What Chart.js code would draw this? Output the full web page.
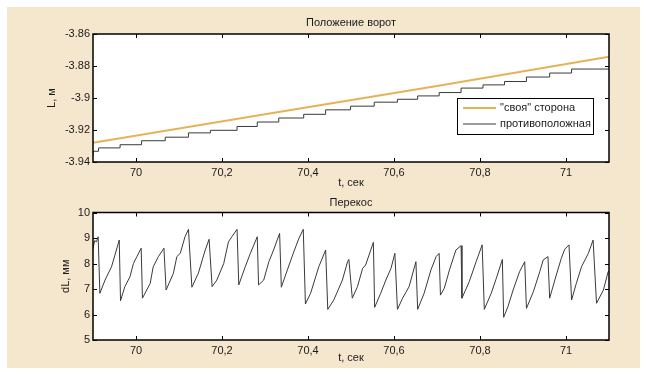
<!DOCTYPE html>
<html>
<head>
<meta charset="utf-8">
<script src="https://cdn.jsdelivr.net/npm/chart.js@4/dist/chart.umd.min.js"></script>
<style>
body{margin:0;background:#fff;width:648px;height:375px;overflow:hidden;position:relative;}
#panel{position:absolute;left:7px;top:7px;width:633px;height:361px;background:#F5E6CE;}
canvas{position:absolute;left:0;}
#c1{top:0;}
#c2{top:190px;}
</style>
</head>
<body>
<div id="panel"></div>
<canvas id="c1" width="648" height="190"></canvas>
<canvas id="c2" width="648" height="185"></canvas>
<script>
// tick labels
const xTicks=[70,70.2,70.4,70.6,70.8,71];
const xTickLabels=["70","70,2","70,4","70,6","70,8","71"];
const yTicksTop=[-3.94,-3.92,-3.9,-3.88,-3.86];
const yTickLabelsTop=["-3.94","-3.92","-3.9","-3.88","-3.86"];
const yTicksBottom=[5,6,7,8,9,10];

// "своя" сторона
const ownTime=[69.9,70.3,70.7,71.1];
const ownL=[-3.928,-3.9102,-3.8925,-3.8742];

// противоположная (ступеньки)
const oppTime=[69.9,69.913,69.963,70.013,70.068,70.122,70.173,70.235,70.282,70.332,70.39,70.441,70.499,70.554,70.608,70.655,70.705,70.756,70.807,70.857,70.908,70.962,71.013,71.067,71.1];
const oppL=[-3.9361,-3.9333,-3.9312,-3.9292,-3.9267,-3.9245,-3.9218,-3.9202,-3.9178,-3.915,-3.9125,-3.9102,-3.9074,-3.9051,-3.9026,-3.9008,-3.8987,-3.8966,-3.8938,-3.8918,-3.8897,-3.8869,-3.8844,-3.8819,-3.8819];

// перекос
const skewTime=[69.899,69.904,69.908,69.912,69.916,69.928,69.943,69.951,69.961,69.964,69.974,69.986,69.994,70.002,70.012,70.015,70.033,70.04,70.052,70.065,70.07,70.087,70.095,70.103,70.114,70.122,70.13,70.145,70.161,70.17,70.177,70.188,70.204,70.215,70.223,70.235,70.239,70.254,70.266,70.282,70.285,70.297,70.309,70.32,70.334,70.338,70.352,70.367,70.379,70.389,70.394,70.406,70.425,70.441,70.446,70.46,70.48,70.492,70.495,70.503,70.515,70.527,70.534,70.546,70.552,70.555,70.569,70.581,70.593,70.602,70.608,70.62,70.635,70.651,70.655,70.67,70.686,70.698,70.705,70.708,70.717,70.729,70.744,70.756,70.758,70.775,70.791,70.805,70.81,70.826,70.838,70.852,70.855,70.865,70.877,70.892,70.904,70.908,70.924,70.939,70.947,70.958,70.962,70.974,70.989,70.997,71.007,71.013,71.024,71.036,71.052,71.063,71.071,71.087,71.098,71.103];
const skewVal=[8.53,8.9,8.85,9.05,6.83,7.35,7.87,8.33,8.92,6.54,7.09,7.48,8.0,8.27,8.6,6.64,7.22,7.87,8.27,8.6,6.96,7.62,8.27,8.4,9.05,9.34,7.07,7.62,8.53,8.95,7.09,7.35,8.0,8.85,9.05,9.34,7.16,7.87,8.4,9.05,7.16,7.35,8.07,8.53,9.18,7.07,7.75,8.46,8.99,9.34,6.41,6.83,7.87,8.53,6.2,6.57,7.35,8.07,8.16,6.64,7.09,7.81,7.94,8.53,8.83,6.28,6.83,7.35,7.81,8.4,6.2,6.64,7.09,8.07,6.2,6.83,7.75,8.27,8.4,6.76,7.03,7.75,8.53,8.7,6.64,7.29,8.07,8.73,6.2,6.83,7.42,8.16,5.89,6.31,6.96,7.68,8.07,6.24,6.89,7.68,8.14,8.27,6.64,7.35,8.2,8.56,8.73,6.57,7.22,7.87,8.4,8.92,6.44,6.96,7.68,7.68];

const FONT="'Liberation Sans', Arial, sans-serif";
Chart.defaults.font.family=FONT;
Chart.defaults.font.size=11;
Chart.defaults.color="#1a1a1a";

const pts=(xs,ys)=>xs.map((x,i)=>({x:x,y:ys[i]}));

const framePlugin={
id:"frame",
beforeDraw(c){
let a=c.chartArea,ctx=c.ctx;
ctx.save();
ctx.fillStyle="#fff";
ctx.fillRect(a.left,a.top,a.width,a.height);
ctx.restore();
},
afterDraw(c){
let a=c.chartArea,ctx=c.ctx,xs=c.scales.x,ys=c.scales.y;
ctx.save();
ctx.strokeStyle="#000";
ctx.lineWidth=1.5;
ctx.strokeRect(a.left,a.top,a.width,a.height);
ctx.lineWidth=1;
ctx.beginPath();
xs.ticks.forEach(t=>{
let p=Math.round(xs.getPixelForValue(t.value))+0.5;
ctx.moveTo(p,a.bottom);ctx.lineTo(p,a.bottom-4);
ctx.moveTo(p,a.top);ctx.lineTo(p,a.top+4);
});
ys.ticks.forEach(t=>{
let p=Math.round(ys.getPixelForValue(t.value))+0.5;
ctx.moveTo(a.left,p);ctx.lineTo(a.left+4,p);
ctx.moveTo(a.right,p);ctx.lineTo(a.right-4,p);
});
ctx.stroke();
ctx.restore();
}
};

const legendPlugin={
id:"insideLegend",
afterDraw(c){
if(!c.options.plugins.insideLegend) return;
let a=c.chartArea,ctx=c.ctx;
let w=136,h=36,x0=a.right-16-w,y0=a.top+64;
ctx.save();
ctx.fillStyle="#fff";
ctx.fillRect(x0,y0,w,h);
ctx.strokeStyle="#000";
ctx.lineWidth=1;
ctx.strokeRect(x0+0.5,y0+0.5,w,h);
ctx.font="11px "+FONT;
ctx.textBaseline="middle";
c.data.datasets.forEach((d,i)=>{
let y=y0+10+i*16;
ctx.strokeStyle=d.borderColor;
ctx.lineWidth=d.borderWidth;
ctx.beginPath();ctx.moveTo(x0+6,y);ctx.lineTo(x0+39,y);ctx.stroke();
ctx.fillStyle="#1a1a1a";
ctx.fillText(d.label,x0+43,y);
});
ctx.restore();
}
};

function xScale(h,title){
return {
type:"linear",min:69.9,max:71.1,
grid:{display:false,drawTicks:false},border:{display:false},
afterBuildTicks:s=>{s.ticks=xTicks.map(v=>({value:v}));},
afterFit:s=>{s.height=h;},
ticks:{padding:4,maxRotation:0,autoSkip:false,
callback:(v)=>{let i=xTicks.findIndex(t=>Math.abs(t-v)<1e-6);return i<0?"":xTickLabels[i];}},
title:{display:true,text:title,padding:{top:0,bottom:0}}
};
}

new Chart(document.getElementById("c1"),{
type:"line",
data:{datasets:[
{label:"\"своя\" сторона",data:pts(ownTime,ownL),borderColor:"#E3B35A",borderWidth:2,pointRadius:0,tension:0},
{label:"противоположная",data:pts(oppTime,oppL),borderColor:"#3a3a3a",borderWidth:1,pointRadius:0,stepped:"after"}
]},
options:{
responsive:false,animation:false,
layout:{padding:{left:0,right:39,top:0,bottom:0}},
plugins:{
legend:{display:false},tooltip:{enabled:false},
insideLegend:true,
title:{display:true,fullSize:false,text:"Положение ворот",font:{size:11,weight:"normal"},color:"#1a1a1a",padding:{top:16,bottom:4.8}}
},
scales:{
x:xScale(28,"t, сек"),
y:{
type:"linear",min:-3.94,max:-3.86,
grid:{display:false,drawTicks:false},border:{display:false},
afterBuildTicks:s=>{s.ticks=yTicksTop.map(v=>({value:v}));},
afterFit:s=>{s.width=93;},
ticks:{padding:3,callback:(v)=>{let i=yTicksTop.findIndex(t=>Math.abs(t-v)<1e-6);return i<0?"":yTickLabelsTop[i];}},
title:{display:true,text:"L, м",padding:{top:45,bottom:0}}
}
}
},
plugins:[framePlugin,legendPlugin]
});

new Chart(document.getElementById("c2"),{
type:"line",
data:{datasets:[
{label:"Перекос",data:pts(skewTime,skewVal),borderColor:"#3a3a3a",borderWidth:1,pointRadius:0,tension:0}
]},
options:{
responsive:false,animation:false,
layout:{padding:{left:0,right:39,top:0,bottom:10.4}},
plugins:{
legend:{display:false},tooltip:{enabled:false},
title:{display:true,fullSize:false,text:"Перекос",font:{size:11,weight:"normal"},color:"#1a1a1a",padding:{top:6.4,bottom:2.9}}
},
scales:{
x:xScale(24.6,"t, сек"),
y:{
type:"linear",min:5,max:10,
grid:{display:false,drawTicks:false},border:{display:false},
afterBuildTicks:s=>{s.ticks=yTicksBottom.map(v=>({value:v}));},
afterFit:s=>{s.width=93;},
ticks:{padding:3},
title:{display:true,text:"dL, мм",padding:{top:59,bottom:0}}
}
}
},
plugins:[framePlugin]
});
</script>
</body>
</html>
